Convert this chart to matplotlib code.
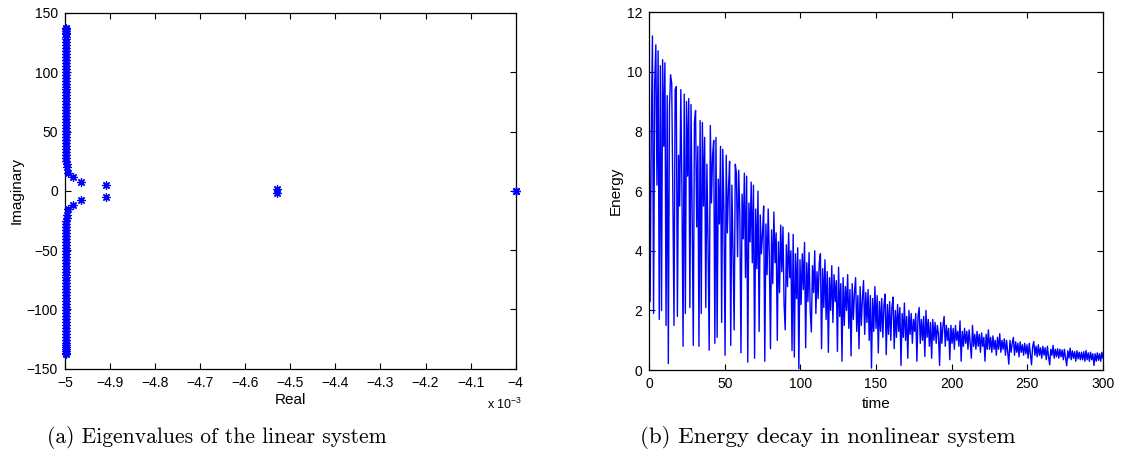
import numpy as np
import matplotlib
matplotlib.use('Agg')
import matplotlib.pyplot as plt
from matplotlib.ticker import FuncFormatter

plt.rcParams['font.family'] = ['Liberation Sans', 'DejaVu Sans']

# eigenvalues, upper half (real part in units of 1e-3), conjugates below
eig_real_up = [-4.9645, -4.983, -4.9927, -4.9956, -4.9966, -4.9972, -4.9976,
               -4.9979, -4.9981, -4.9983, -4.9984, -4.9985, -4.9985, -4.9985,
               -4.9985, -4.9985, -4.9985, -4.9985, -4.9985, -4.9985, -4.9985,
               -4.9985, -4.9985, -4.9985, -4.9985, -4.9985, -4.9985, -4.9985,
               -4.9985, -4.9985, -4.9985, -4.9985, -4.9985, -4.9985, -4.9985,
               -4.9985, -4.9985, -4.9985, -4.9985, -4.9985, -4.9985, -4.9985,
               -4.9985, -4.9985, -4.9985, -4.9985, -4.9985, -4.9985, -4.9985,
               -4.9985, -4.9985, -4.9985, -4.9985,
               -4.908, -4.53, -4.0]
eig_imag_up = [7.4, 11.7, 15.4, 20.0, 22.8, 25.4, 28.0,
               30.5, 33.0, 35.5, 38.0, 40.5, 43.0, 45.5,
               48.0, 50.5, 53.0, 55.5, 58.0, 60.5, 63.0,
               65.5, 68.0, 70.5, 73.0, 75.5, 78.0, 80.5,
               83.0, 85.5, 88.0, 90.5, 93.0, 95.5, 98.0,
               100.5, 103.0, 105.5, 108.0, 110.5, 113.0, 115.5,
               118.0, 120.5, 123.0, 125.5, 128.0, 130.0, 132.0,
               133.5, 135.0, 136.3, 137.5,
               4.8, 1.5, 0.0]

# energy of the nonlinear system, sampled every 0.75 time units
dt = 0.75
energy = [
    9.5, 2.3, 8.0, 11.2, 1.9, 9.6, 10.9, 6.2, 10.7, 1.7, 10.2, 2.0, 10.4, 7.5, 10.3, 1.5, 9.2, 0.22, 8.8, 9.9,
    9.6, 5.8, 1.5, 9.4, 9.5, 1.8, 7.2, 5.5, 9.4, 6.0, 0.8, 9.25, 1.9, 9.0, 6.5, 9.1, 2.1, 8.9, 5.2, 0.83,
    8.3, 8.7, 4.8, 7.5, 0.8, 8.36, 1.9, 8.3, 5.5, 7.8, 2.1, 6.9, 4.2, 0.67, 8.2, 5.6, 7.2, 7.7, 0.9, 7.8,
    1.1, 6.4, 4.9, 7.5, 1.6, 7.4, 5.3, 0.5, 7.2, 4.6, 6.1, 7.0, 0.83, 6.2, 4.0, 1.35, 6.9, 6.6, 3.8, 6.7,
    5.2, 0.58, 5.9, 4.4, 6.6, 3.1, 6.5, 0.27, 5.6, 4.3, 6.3, 3.6, 6.2, 0.4, 5.4, 3.4, 6.0, 1.3, 5.2, 3.9,
    4.6, 5.5, 0.3, 4.9, 3.2, 5.4, 3.8, 0.72, 4.7, 2.9, 5.3, 3.6, 4.6, 1.0, 4.3, 2.6, 4.86, 3.3, 4.8, 2.2,
    1.35, 4.2, 2.8, 4.6, 3.1, 4.0, 0.66, 4.55, 0.44, 3.9, 2.4, 4.1, 0.05, 3.7, 2.2, 3.9, 2.7, 4.28, 0.75, 3.6,
    2.3, 3.94, 2.0, 1.28, 3.5, 2.6, 4.0, 1.9, 3.3, 2.4, 3.6, 3.9, 0.72, 3.4, 2.1, 3.7, 1.7, 3.3, 0.6, 3.1,
    2.0, 3.5, 1.6, 3.2, 2.3, 3.0, 0.63, 3.45, 1.8, 2.9, 0.3, 3.1, 1.5, 2.8, 2.0, 3.2, 1.4, 2.7, 0.48, 2.9,
    1.7, 2.6, 3.1, 1.3, 2.5, 0.72, 2.8, 1.5, 2.4, 3.0, 1.2, 2.6, 1.6, 2.7, 1.0, 2.5, 0.07, 2.4, 1.3, 2.8,
    1.4, 2.5, 0.58, 2.3, 1.3, 2.4, 1.1, 2.2, 2.55, 0.52, 2.2, 1.2, 2.3, 1.0, 2.1, 2.45, 0.72, 2.0, 1.1, 2.2,
    1.3, 2.1, 0.16, 1.9, 1.1, 2.25, 1.0, 1.8, 0.4, 2.0, 1.2, 1.9, 0.9, 1.7, 1.3, 1.9, 0.3, 1.8, 2.1, 0.9,
    1.7, 1.0, 1.8, 0.46, 2.0, 1.1, 1.7, 0.8, 1.6, 0.4, 1.7, 1.0, 1.6, 0.9, 1.5, 1.2, 0.16, 1.6, 0.9, 1.5,
    1.8, 0.8, 1.5, 1.0, 1.4, 0.35, 1.5, 0.9, 1.4, 0.7, 1.5, 1.0, 1.3, 0.8, 1.65, 0.3, 1.3, 0.8, 1.4, 0.9,
    1.3, 0.7, 1.35, 0.9, 0.4, 1.5, 0.8, 1.2, 0.7, 1.3, 0.8, 1.2, 0.6, 1.25, 0.8, 1.1, 0.3, 1.2, 0.7, 1.35,
    0.7, 1.1, 0.6, 1.15, 0.7, 1.0, 0.5, 1.1, 0.7, 1.22, 0.6, 1.0, 0.7, 1.05, 0.5, 1.0, 0.6, 0.2, 1.0, 0.6,
    0.9, 1.1, 0.5, 0.95, 0.6, 0.9, 0.45, 0.95, 0.6, 0.85, 0.5, 0.9, 0.55, 0.85, 0.4, 0.9, 0.55, 0.18, 0.8, 0.96,
    0.5, 0.8, 0.45, 0.85, 0.5, 0.75, 0.4, 0.8, 0.5, 0.75, 0.35, 0.8, 0.45, 0.18, 0.7, 0.5, 0.83, 0.4, 0.7, 0.45,
    0.72, 0.4, 0.7, 0.45, 0.68, 0.35, 0.7, 0.4, 0.15, 0.65, 0.4, 0.74, 0.35, 0.65, 0.4, 0.62, 0.3, 0.65, 0.38, 0.6,
    0.35, 0.6, 0.35, 0.62, 0.3, 0.66, 0.35, 0.58, 0.3, 0.6, 0.35, 0.55, 0.16, 0.55, 0.3, 0.58, 0.33, 0.55, 0.3, 0.6,
    0.4,
]

captions = ['(a) Eigenvalues of the linear system',
            '(b) Energy decay in nonlinear system']


def style_axes(ax):
    ax.tick_params(direction='in', top=True, right=True, length=4,
                   width=0.8, labelsize=10, pad=5)
    for s in ax.spines.values():
        s.set_linewidth(0.9)


fig = plt.figure(figsize=(11.26, 4.57), dpi=100)

# ---- left: eigenvalues
ax1 = fig.add_axes([0.0577, 0.193, 0.4003, 0.7786])
re = np.array(eig_real_up)
im = np.array(eig_imag_up)
ax1.plot(np.concatenate([re, re]), np.concatenate([im, -im]), linestyle='none',
         marker=(8, 2, 0), markersize=6, color='b', markeredgewidth=0.9,
         clip_on=False, zorder=3)
ax1.set_xlim(-5, -4)
ax1.set_ylim(-150, 150)
ax1.set_xticks(np.round(np.arange(-5, -3.95, 0.1), 1))
ax1.set_yticks(np.arange(-150, 151, 50))
ax1.xaxis.set_major_formatter(FuncFormatter(lambda v, p: ('%g' % round(v, 1)).replace('-', '\u2212')))
ax1.set_xlabel('Real', fontsize=11, labelpad=2)
ax1.set_ylabel('Imaginary', fontsize=11, labelpad=2)
style_axes(ax1)
fig.text(0.4325, 0.116, 'x 10$^{\\mathregular{-3}}$', fontsize=9, ha='left', va='center')

# ---- right: energy decay
ax2 = fig.add_axes([0.5764, 0.19, 0.4032, 0.7837])
t = np.arange(len(energy)) * dt
ax2.plot(t, energy, color='b', linewidth=1.0)
ax2.set_xlim(0, 300)
ax2.set_ylim(0, 12)
ax2.set_xticks(np.arange(0, 301, 50))
ax2.set_yticks(np.arange(0, 13, 2))
ax2.set_xlabel('time', fontsize=11, labelpad=4)
ax2.set_ylabel('Energy', fontsize=11, labelpad=3)
style_axes(ax2)

fig.text(0.0415, 0.042, captions[0], fontsize=15.5, family='cmr10', ha='left', va='center')
fig.text(0.568, 0.042, captions[1], fontsize=16.5, family='cmr10', ha='left', va='center')

fig.savefig('out.png', dpi=100)
